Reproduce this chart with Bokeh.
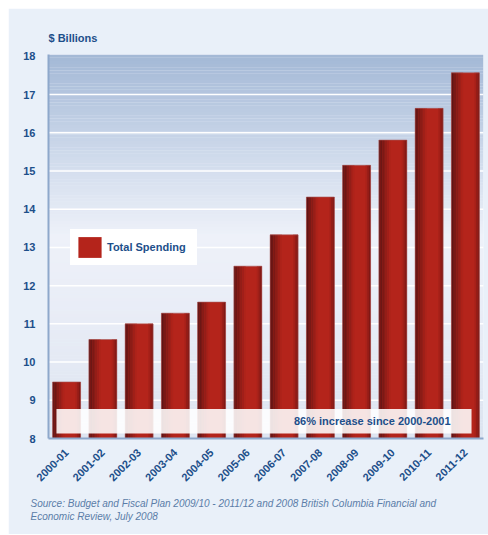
import numpy as np
from bokeh.plotting import figure
from bokeh.models import FactorRange, Range1d, Legend, LegendItem, Title
from bokeh.embed import file_html
from bokeh.resources import INLINE
from bokeh.core.properties import value

# ---------------- data ----------------
years = ["2000-01", "2001-02", "2002-03", "2003-04", "2004-05", "2005-06",
         "2006-07", "2007-08", "2008-09", "2009-10", "2010-11", "2011-12"]
spending = [9.48, 10.59, 11.00, 11.28, 11.57, 12.51, 13.33, 14.32, 15.15, 15.81, 16.64, 17.57]
y_ticks = [8, 9, 10, 11, 12, 13, 14, 15, 16, 17, 18]
grid_values = [9, 10, 11, 12, 13, 14, 15, 16, 17]
series_label = "Total Spending"
axis_title = "$ Billions"
note_text = "86% increase since 2000-2001"
source_lines = ["Source: Budget and Fiscal Plan 2009/10 - 2011/12 and 2008 British Columbia Financial and",
                "Economic Review, July 2008"]

# ---------------- style ----------------
FONT = "Liberation Sans"
BLUE = "#1d4f8a"
OUTER = "#e9f0f9"
RED = "#b4241b"
Y0, Y1 = 8, 18.05


def hex2rgb(h):
    h = h.lstrip("#")
    return np.array([int(h[i:i + 2], 16) for i in (0, 2, 4)], dtype=float)


def rgb2hex(c):
    c = np.clip(np.round(c), 0, 255).astype(int)
    return "#%02x%02x%02x" % tuple(c)


def interp_color(stops, t):
    vals = [s[0] for s in stops]
    cols = [hex2rgb(s[1]) for s in stops]
    for i in range(len(vals) - 1):
        if vals[i] <= t <= vals[i + 1]:
            f = (t - vals[i]) / (vals[i + 1] - vals[i])
            return rgb2hex(cols[i] * (1 - f) + cols[i + 1] * f)
    return rgb2hex(cols[-1] if t > vals[-1] else cols[0])


p = figure(x_range=FactorRange(factors=years), y_range=Range1d(Y0, Y1),
           width=480, height=526, output_backend="svg", toolbar_location=None,
           min_border_left=40, min_border_right=5, min_border_top=46, min_border_bottom=96)
p.margin = (8, 0, 0, 8)
p.background_fill_color = OUTER
p.border_fill_color = OUTER
p.outline_line_color = None
p.xgrid.visible = False
p.ygrid.visible = False

# background gradient bands (style only)
n_band = 120
edges = np.linspace(Y0, Y1, n_band + 1)
bg_stops = [(8.0, "#dce4f0"), (11.0, "#e8ecf6"), (13.3, "#eef1f9"), (15.3, "#d0dbec"), (18.05, "#a3b8d6")]
band_cols = [interp_color(bg_stops, (edges[i] + edges[i + 1]) / 2) for i in range(n_band)]
p.quad(left=0, right=len(years), bottom=edges[:-1], top=edges[1:],
       fill_color=band_cols, line_color=None)

# gridlines
p.segment(x0=0, x1=len(years), y0=grid_values, y1=grid_values, line_color="white", line_width=1.5)

# bars
bw = 0.77
base = p.vbar(x=years, top=spending, bottom=Y0, width=bw, fill_color=RED, line_color=None)
centers = np.arange(len(years)) + 0.5
left_edge = centers - bw / 2
n_left = 7
s = bw * 0.06
for k in range(n_left):
    col = interp_color([(0, "#581313"), (n_left, RED)], k + 0.5)
    p.quad(left=left_edge + k * s, right=left_edge + (k + 1) * s, bottom=Y0, top=spending,
           fill_color=col, line_color=None)
n_right = 3
for k in range(n_right):
    col = interp_color([(0, RED), (n_right, "#741614")], k + 0.5)
    r0 = centers + bw / 2 - (n_right - k) * s
    p.quad(left=r0, right=r0 + s, bottom=Y0, top=spending, fill_color=col, line_color=None)
p.vbar(x=years, top=spending, bottom=Y0, width=bw, fill_color=None,
       line_color="#a85a5a", line_alpha=0.6, line_width=1)

# note box
p.quad(left=0.22, right=11.67, bottom=8.13, top=8.77, fill_color="white", fill_alpha=0.88, line_color=None)
p.text(x=[11.09], y=[8.45], text=[note_text], text_align="right", text_baseline="middle",
       text_font=value(FONT), text_font_style="bold", text_font_size="11px", text_color=BLUE)

# legend
legend = Legend(items=[LegendItem(label=series_label, renderers=[base])], location=(22, 173),
                background_fill_color="white", background_fill_alpha=1.0,
                border_line_color="white", border_line_width=1,
                label_text_font=FONT, label_text_font_style="bold", label_text_font_size="11px",
                label_text_color=BLUE, glyph_width=29, glyph_height=26, label_height=26,
                label_width=85, padding=4, margin=0, label_standoff=3, spacing=0)
p.add_layout(legend)

# axes
for ax in (p.xaxis, p.yaxis):
    ax.axis_line_color = "#8ea8cb"
    ax.axis_line_width = 2
    ax.major_tick_line_color = None
    ax.minor_tick_line_color = None
    ax.major_label_text_font = FONT
    ax.major_label_text_font_style = "bold"
    ax.major_label_text_color = BLUE
p.yaxis.major_label_text_font_size = "11px"
p.xaxis.major_label_text_font_size = "11px"
p.yaxis.ticker = y_ticks
p.yaxis.major_label_standoff = 7
p.xaxis.major_label_orientation = np.pi / 4
p.xaxis.major_label_standoff = 6

# title
p.title.text = axis_title
p.title.align = "left"
p.title.text_font = FONT
p.title.text_font_style = "bold"
p.title.text_font_size = "11px"
p.title.text_color = BLUE
p.title.standoff = 22

# spacer then source lines
p.add_layout(Title(text=" ", text_font_size="5px", standoff=0), "below")
for line in source_lines:
    p.add_layout(Title(text=line, align="left", offset=-18, text_font=FONT, text_font_style="italic",
                       text_font_size="10px", text_color="#5b7da8", standoff=0), "below")

open("out.html", "w").write(file_html(p, INLINE))
